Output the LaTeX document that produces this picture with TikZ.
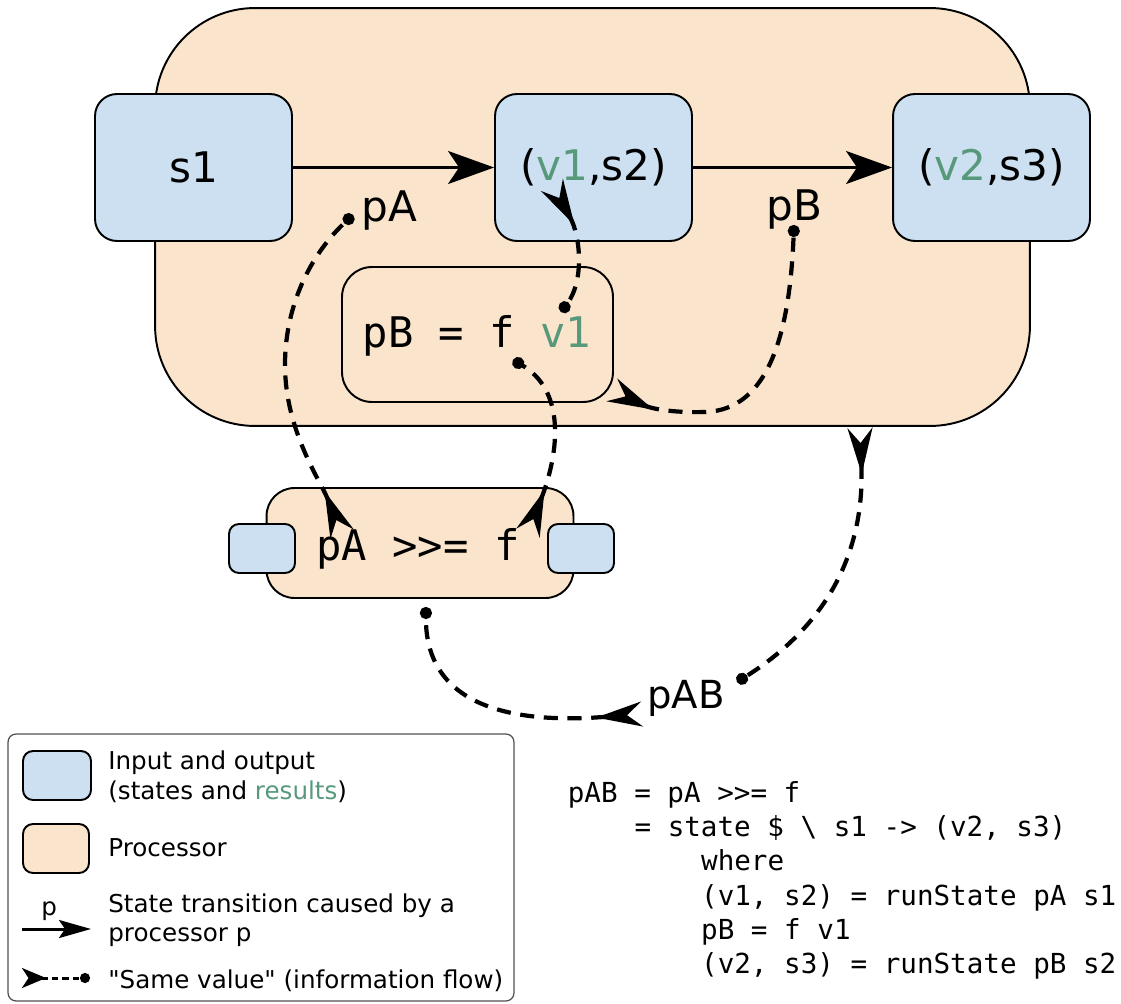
\documentclass[tikz,border=0pt]{standalone}
\usepackage{fontspec}
\setmainfont{DejaVu Sans}[Ligatures=TeXOff]
\setmonofont{DejaVu Sans Mono}
\usetikzlibrary{arrows.meta}
\definecolor{ioblue}{RGB}{204,224,242}
\definecolor{procorange}{RGB}{250,229,204}
\definecolor{valgreen}{RGB}{88,153,124}
\definecolor{legendgray}{RGB}{80,80,80}
\begin{document}
\begin{tikzpicture}[x=0.02cm, y=-0.02cm,
 box/.style={draw=black, line width=1.1pt, inner sep=0pt},
 iobox/.style={box, fill=ioblue, rounded corners=0.44cm, minimum width=3.94cm, minimum height=2.94cm, font=\fontsize{24}{28}\selectfont},
 smallio/.style={box, fill=ioblue, rounded corners=0.2cm, minimum width=1.32cm, minimum height=0.98cm},
 procbox/.style={box, fill=procorange},
 trans/.style={line width=1.6pt, -{Stealth[length=0.92cm, width=0.66cm, inset=0.22cm]}},
 flow/.style={line width=2.4pt, dash pattern=on 8pt off 5.5pt, {Stealth[reversed, length=0.92cm, width=0.5cm, inset=0.3cm]}-{Circle[length=0.24cm]}},
 legflow/.style={line width=1.7pt, dash pattern=on 3.5pt off 2.5pt, {Stealth[reversed, length=0.48cm, width=0.4cm, inset=0.13cm]}-{Circle[length=0.2cm]}},
 legtrans/.style={line width=1.7pt, -{Stealth[length=0.64cm, width=0.36cm, inset=0.12cm]}},
 biglbl/.style={font=\fontsize{24}{28}\selectfont, inner sep=0pt, anchor=base west},
 monolbl/.style={font=\fontsize{24}{28}\selectfont\ttfamily, inner sep=0pt, anchor=base},
 legtxt/.style={font=\fontsize{14}{17}\selectfont, inner sep=0pt, anchor=base west},
 code/.style={font=\fontsize{15.7}{19}\selectfont\ttfamily, inner sep=0pt, anchor=base west},
]
\useasboundingbox (0,0) rectangle (1121,1003);
\fill[white] (0,0) rectangle (1121,1003);

% processors
\node[procbox, rounded corners=2cm, minimum width=17.5cm, minimum height=8.36cm] (proc) at (592.5,217) {};
\node[procbox, rounded corners=0.6cm, minimum width=5.42cm, minimum height=2.7cm] (pBbox) at (477.5,334.5) {};
\node[monolbl] (pBtxt) at (477,347) {pB = f \textcolor{valgreen}{v1}};
\node[procbox, rounded corners=0.56cm, minimum width=6.14cm, minimum height=2.2cm] (bind) at (420,543) {};
\node[monolbl] (bindtxt) at (418,560) {pA >{}>= f};
\node[smallio] (bindin) at (262,548.5) {};
\node[smallio] (bindout) at (581,548.5) {};

% states
\node[iobox] (s1) at (193.5,167.5) {s1};
\node[iobox] (v1s2) at (593.5,167.5) {(\textcolor{valgreen}{v1},s2)};
\node[iobox] (v2s3) at (991.5,167.5) {(\textcolor{valgreen}{v2},s3)};

\draw[trans] (s1) -- (v1s2);
\draw[trans] (v1s2) -- (v2s3);

\node[biglbl] (pAlbl) at (361,222) {pA};
\node[biglbl] (pBlbl) at (766,221) {pB};
\node[biglbl, font=\fontsize{22}{26}\selectfont] (pABlbl) at (647,708) {pAB};

% information flows
\coordinate (f1s) at (342,534); \coordinate (f1e) at (353,215);
\coordinate (f2s) at (552,185); \coordinate (f2e) at (561,312);
\coordinate (f3s) at (528,533); \coordinate (f3e) at (513,360);
\coordinate (f4s) at (612,390); \coordinate (f4e) at (794,225);
\coordinate (f5s) at (860,428); \coordinate (f5e) at (737,682);
\coordinate (f6s) at (642,714); \coordinate (f6e) at (426,607);
\draw[flow] (f1s) .. controls (320,480) and (285,430) .. (285,365) .. controls (285,300) and (315,250) .. (f1e);
\draw[flow] (f2s) .. controls (580,235) and (585,280) .. (f2e);
\draw[flow] (f3s) .. controls (560,450) and (565,390) .. (f3e);
\draw[flow] (f4s) .. controls (650,408) and (670,413) .. (705,412) .. controls (770,410) and (790,330) .. (f4e);
\draw[flow] (f5s) .. controls (865,560) and (820,630) .. (f5e);
\draw[flow] (f6s) .. controls (500,725) and (425,700) .. (f6e);

% legend
\node[box, draw=legendgray, line width=0.7pt, rounded corners=0.16cm, minimum width=10.12cm, minimum height=5.34cm] (legend) at (261,867.5) {};
\node[box, fill=ioblue, rounded corners=0.2cm, minimum width=1.36cm, minimum height=0.98cm] (legio) at (57,775.5) {};
\node[box, fill=procorange, rounded corners=0.2cm, minimum width=1.32cm, minimum height=0.98cm] (legproc) at (56,848.5) {};
\node[legtxt] (legt1) at (108,769) {Input and output};
\node[legtxt] (legt2) at (108,799) {(states and \textcolor{valgreen}{results})};
\node[legtxt] (legt3) at (108,856) {Processor};
\node[legtxt] (legt4) at (108,912) {State transition caused by a};
\node[legtxt] (legt5) at (108,941) {processor p};
\node[legtxt] (legt6) at (108,988) {"Same value" (information flow)};
\coordinate (la1) at (22,929); \coordinate (la2) at (91,929);
\draw[legtrans] (la1) -- (la2);
\node[legtxt] (lap) at (41,915) {p};
\coordinate (lf1) at (22,978); \coordinate (lf2) at (90,978);
\draw[legflow] (lf1) -- (lf2);

% code
\node[code] (c1) at (567.5,802.5) {pAB = pA >{}>= f};
\node[code] (c2) at (634.2,836.7) {= state \$ \textbackslash{} s1 -> (v2, s3)};
\node[code] (c3) at (700.8,870.9) {where};
\node[code] (c4) at (700.8,905.1) {(v1, s2) = runState pA s1};
\node[code] (c5) at (700.8,939.3) {pB = f v1};
\node[code] (c6) at (700.8,973.5) {(v2, s3) = runState pB s2};
\end{tikzpicture}
\end{document}
